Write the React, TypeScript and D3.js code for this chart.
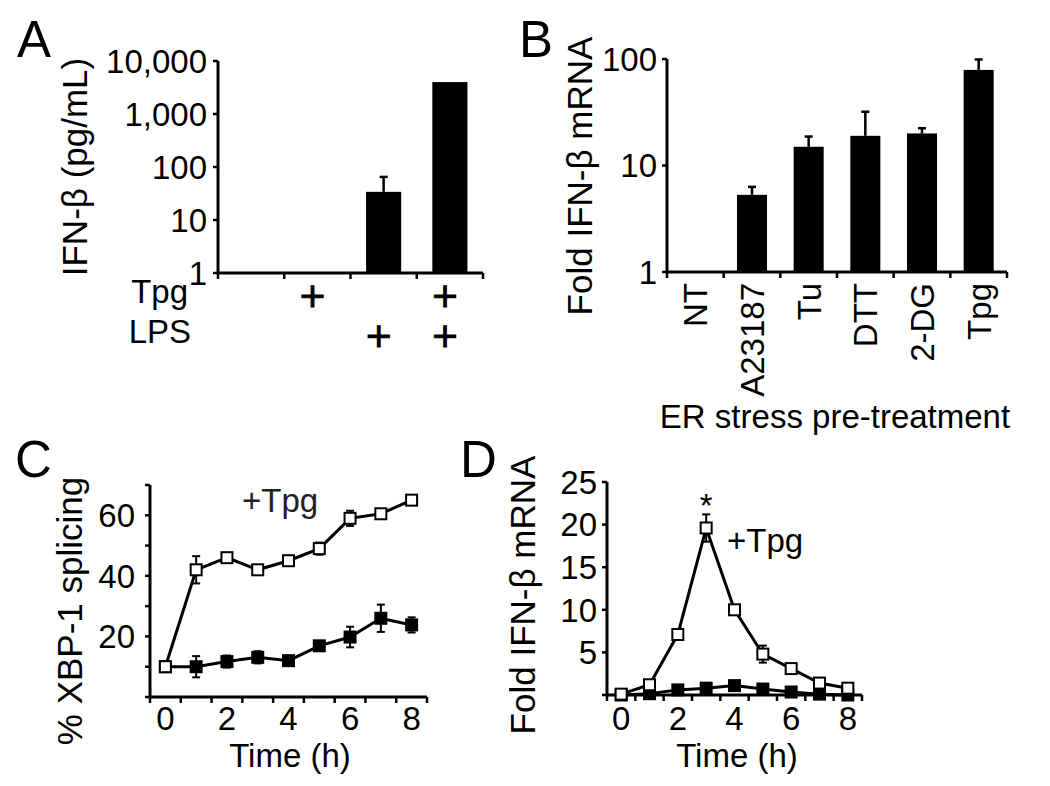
import React from "react";
import * as d3 from "d3";

// ---------- Panel A data ----------
const aGroups = ["ctrl", "tpg", "lps", "tpg+lps"];
const aTpg = [false, true, false, true];
const aLps = [false, false, true, true];
const aValues = [1, 1, 34, 4000];
const aErrTop = [1, 1, 65, 4000];
const aTicks = [1, 10, 100, 1000, 10000];
const aTickLabels = ["1", "10", "100", "1,000", "10,000"];

// ---------- Panel B data ----------
const bCategories = ["NT", "A23187", "Tu", "DTT", "2-DG", "Tpg"];
const bValues = [1, 5.3, 15, 19, 20, 79];
const bErrTop = [1, 6.3, 18.7, 32, 22.4, 99];
const bTicks = [1, 10, 100];

// ---------- Panel C data ----------
const times = [0, 1, 2, 3, 4, 5, 6, 7, 8];
const cTpg = [10, 42, 46, 42, 45, 49, 59, 60.5, 65];
const cTpgErr = [0, 4.5, 0.8, 0.8, 0.8, 2, 2.5, 1, 1];
const cCtrl = [10, 10, 11.7, 13.1, 12, 16.9, 19.8, 26, 23.8];
const cCtrlErr = [0, 3.5, 2, 2, 1.5, 1.5, 3.4, 4.5, 2.5];
const cYTicks = [0, 10, 20, 30, 40, 50, 60, 70];
const cYLabels = [20, 40, 60];
const xLabels = [0, 2, 4, 6, 8];
const xHalfTicks = [-0.5, 0.5, 1.5, 2.5, 3.5, 4.5, 5.5, 6.5, 7.5, 8.5];

// ---------- Panel D data ----------
const dTpg = [0.1, 1.2, 7.1, 19.6, 10, 4.8, 3.1, 1.4, 0.8];
const dTpgErr = [0, 0.3, 0.3, 1.6, 0.3, 1.0, 0.4, 0.3, 0.2];
const dCtrl = [0, 0.15, 0.6, 0.8, 1.1, 0.7, 0.35, 0.1, 0.0];
const dCtrlErr = [0, 0.1, 0.15, 0.2, 0.3, 0.2, 0.1, 0.05, 0.05];
const dYTicks = [0, 5, 10, 15, 20, 25];

const FONT = "'Liberation Sans', Arial, Helvetica, sans-serif";
const TICK_FS = 33;
const TITLE_FS = 35;
const LETTER_FS = 51;
const AXIS_W = 3;

function PanelA() {
  const x = d3.scaleBand<string>().domain(aGroups).range([218, 483]).paddingInner(0.47).paddingOuter(0.235);
  const y = d3.scaleLog().domain([1, 10000]).range([273, 61]);
  const step = x.step();
  const edges = d3.range(aGroups.length + 1).map((i) => 218 + i * step);
  return (
    <g>
      <text x={17} y={57} fontSize={LETTER_FS}>A</text>
      <text transform={`translate(75,167) rotate(-90)`} textAnchor="middle" dy="0.35em" fontSize={TITLE_FS}>
        IFN-β (pg/mL)
      </text>
      {aGroups.map((g, i) => {
        const cx = x(g)! + x.bandwidth() / 2;
        return aValues[i] > 1 ? (
          <g key={g}>
            {aErrTop[i] > aValues[i] ? (
              <g>
                <line x1={cx} x2={cx} y1={y(aValues[i])} y2={y(aErrTop[i])} stroke="#000" strokeWidth={2.5} />
                <line x1={cx - 4} x2={cx + 4} y1={y(aErrTop[i])} y2={y(aErrTop[i])} stroke="#000" strokeWidth={2.5} />
              </g>
            ) : null}
            <rect x={x(g)} y={y(aValues[i])} width={x.bandwidth()} height={y(1) - y(aValues[i])} fill="#000" />
          </g>
        ) : null;
      })}
      <line x1={218} x2={218} y1={y(10000)} y2={y(1) + 1.5} stroke="#000" strokeWidth={AXIS_W} />
      <line x1={218} x2={483} y1={y(1)} y2={y(1)} stroke="#000" strokeWidth={AXIS_W} />
      {aTicks.map((t, i) => (
        <g key={t}>
          <line x1={213} x2={218} y1={y(t)} y2={y(t)} stroke="#000" strokeWidth={2.5} />
          <text x={207} y={y(t)} dy="0.36em" textAnchor="end" fontSize={TICK_FS}>{aTickLabels[i]}</text>
        </g>
      ))}
      {edges.map((e, i) => (
        <line key={i} x1={e} x2={e} y1={y(1)} y2={y(1) + 6} stroke="#000" strokeWidth={2.5} />
      ))}
      <text x={188} y={303} textAnchor="end" fontSize={TICK_FS}>Tpg</text>
      <text x={191} y={343} textAnchor="end" fontSize={TICK_FS}>LPS</text>
      {aGroups.map((g, i) => (
        <g key={"p" + g} fontFamily="'DejaVu Sans', sans-serif">
          {aTpg[i] ? (
            <text x={x(g)! + x.bandwidth() / 2 - 5} y={307} textAnchor="middle" fontSize={34} stroke="#000" strokeWidth={1}>+</text>
          ) : null}
          {aLps[i] ? (
            <text x={x(g)! + x.bandwidth() / 2 - 5} y={347} textAnchor="middle" fontSize={34} stroke="#000" strokeWidth={1}>+</text>
          ) : null}
        </g>
      ))}
    </g>
  );
}

function PanelB() {
  const x = d3.scaleBand<string>().domain(bCategories).range([667, 1007]).paddingInner(0.47).paddingOuter(0.235);
  const y = d3.scaleLog().domain([1, 100]).range([272, 59]);
  const step = x.step();
  const edges = d3.range(bCategories.length + 1).map((i) => 667 + i * step);
  return (
    <g>
      <text x={519} y={57} fontSize={LETTER_FS}>B</text>
      <text transform={`translate(580,176) rotate(-90)`} textAnchor="middle" dy="0.35em" fontSize={TITLE_FS}>
        Fold IFN-β mRNA
      </text>
      {bCategories.map((c, i) => {
        const cx = x(c)! + x.bandwidth() / 2;
        return bValues[i] > 1 ? (
          <g key={c}>
            <line x1={cx} x2={cx} y1={y(bValues[i])} y2={y(bErrTop[i])} stroke="#000" strokeWidth={2.5} />
            <line x1={cx - 4} x2={cx + 4} y1={y(bErrTop[i])} y2={y(bErrTop[i])} stroke="#000" strokeWidth={2.5} />
            <rect x={x(c)} y={y(bValues[i])} width={x.bandwidth()} height={y(1) - y(bValues[i])} fill="#000" />
          </g>
        ) : null;
      })}
      <line x1={667} x2={667} y1={y(100)} y2={y(1) + 1.5} stroke="#000" strokeWidth={AXIS_W} />
      <line x1={667} x2={1007} y1={y(1)} y2={y(1)} stroke="#000" strokeWidth={AXIS_W} />
      {bTicks.map((t) => (
        <g key={t}>
          <line x1={662} x2={667} y1={y(t)} y2={y(t)} stroke="#000" strokeWidth={2.5} />
          <text x={657} y={y(t)} dy="0.36em" textAnchor="end" fontSize={TICK_FS}>{t}</text>
        </g>
      ))}
      {edges.map((e, i) => (
        <line key={i} x1={e} x2={e} y1={y(1)} y2={y(1) + 6} stroke="#000" strokeWidth={2.5} />
      ))}
      {bCategories.map((c) => (
        <text key={"l" + c} transform={`translate(${x(c)! + x.bandwidth() / 2},283) rotate(-90)`} textAnchor="end" dy="0.36em" fontSize={TICK_FS}>
          {c}
        </text>
      ))}
      <text x={835} y={428} textAnchor="middle" fontSize={TICK_FS}>ER stress pre-treatment</text>
    </g>
  );
}

type SeriesProps = {
  x: d3.ScaleLinear<number, number>;
  y: d3.ScaleLinear<number, number>;
  vals: number[];
  errs: number[];
  filled: boolean;
};

function Series({ x, y, vals, errs, filled }: SeriesProps) {
  const line = d3
    .line<number>()
    .x((_, i) => x(times[i]))
    .y((v) => y(v));
  const s = 11;
  return (
    <g>
      <path d={line(vals) || ""} fill="none" stroke="#000" strokeWidth={3} />
      {vals.map((v, i) =>
        errs[i] > 0 ? (
          <g key={"e" + i}>
            <line x1={x(times[i])} x2={x(times[i])} y1={y(v - errs[i])} y2={y(v + errs[i])} stroke="#000" strokeWidth={2} />
            <line x1={x(times[i]) - 4} x2={x(times[i]) + 4} y1={y(v + errs[i])} y2={y(v + errs[i])} stroke="#000" strokeWidth={2} />
            <line x1={x(times[i]) - 4} x2={x(times[i]) + 4} y1={y(v - errs[i])} y2={y(v - errs[i])} stroke="#000" strokeWidth={2} />
          </g>
        ) : null
      )}
      {vals.map((v, i) => (
        <rect key={"m" + i} x={x(times[i]) - s / 2} y={y(v) - s / 2} width={s} height={s} fill={filled ? "#000" : "#fff"} stroke="#000" strokeWidth={2} />
      ))}
    </g>
  );
}

function PanelC() {
  const x = d3.scaleLinear().domain([-0.5, 8.5]).range([150, 427]);
  const y = d3.scaleLinear().domain([0, 70]).range([697, 485]);
  return (
    <g>
      <text x={15} y={477} fontSize={LETTER_FS}>C</text>
      <text transform={`translate(70,611) rotate(-90)`} textAnchor="middle" dy="0.35em" fontSize={TITLE_FS}>
        % XBP-1 splicing
      </text>
      <line x1={150} x2={150} y1={485} y2={698.5} stroke="#000" strokeWidth={AXIS_W} />
      <line x1={150} x2={427} y1={697} y2={697} stroke="#000" strokeWidth={AXIS_W} />
      {cYTicks.map((t) => (
        <line key={t} x1={145} x2={150} y1={y(t)} y2={y(t)} stroke="#000" strokeWidth={2.5} />
      ))}
      {cYLabels.map((t) => (
        <text key={"l" + t} x={135} y={y(t)} dy="0.36em" textAnchor="end" fontSize={TICK_FS}>{t}</text>
      ))}
      {xHalfTicks.map((t) => (
        <line key={t} x1={x(t)} x2={x(t)} y1={697} y2={703} stroke="#000" strokeWidth={2.5} />
      ))}
      {xLabels.map((t) => (
        <text key={"x" + t} x={x(t)} y={730} textAnchor="middle" fontSize={TICK_FS}>{t}</text>
      ))}
      <text x={290} y={767} textAnchor="middle" fontSize={TICK_FS}>Time (h)</text>
      <Series x={x} y={y} vals={cCtrl} errs={cCtrlErr} filled={true} />
      <Series x={x} y={y} vals={cTpg} errs={cTpgErr} filled={false} />
      <text x={242} y={512} fontSize={TICK_FS} fill="#222">+Tpg</text>
    </g>
  );
}

function PanelD() {
  const x = d3.scaleLinear().domain([-0.5, 8.5]).range([607, 862]);
  const y = d3.scaleLinear().domain([0, 25]).range([695, 482]);
  return (
    <g>
      <text x={460} y={477} fontSize={LETTER_FS}>D</text>
      <text transform={`translate(523,595) rotate(-90)`} textAnchor="middle" dy="0.35em" fontSize={TITLE_FS}>
        Fold IFN-β mRNA
      </text>
      <line x1={607} x2={607} y1={482} y2={696.5} stroke="#000" strokeWidth={AXIS_W} />
      <line x1={607} x2={862} y1={695} y2={695} stroke="#000" strokeWidth={AXIS_W} />
      {dYTicks.map((t) => (
        <g key={t}>
          <line x1={602} x2={607} y1={y(t)} y2={y(t)} stroke="#000" strokeWidth={2.5} />
          {t > 0 ? (
            <text x={597} y={y(t)} dy="0.36em" textAnchor="end" fontSize={TICK_FS}>{t}</text>
          ) : null}
        </g>
      ))}
      {xHalfTicks.map((t) => (
        <line key={t} x1={x(t)} x2={x(t)} y1={695} y2={701} stroke="#000" strokeWidth={2.5} />
      ))}
      {xLabels.map((t) => (
        <text key={"x" + t} x={x(t)} y={730} textAnchor="middle" fontSize={TICK_FS}>{t}</text>
      ))}
      <text x={737} y={767} textAnchor="middle" fontSize={TICK_FS}>Time (h)</text>
      <Series x={x} y={y} vals={dCtrl} errs={dCtrlErr} filled={true} />
      <Series x={x} y={y} vals={dTpg} errs={dTpgErr} filled={false} />
      <text x={x(3)} y={517} textAnchor="middle" fontSize={TICK_FS}>*</text>
      <text x={727} y={552} fontSize={TICK_FS}>+Tpg</text>
    </g>
  );
}

export default function App() {
  return (
    <svg
      width={1050}
      height={786}
      style={{ position: "absolute", left: 0, top: 0, background: "#fff" }}
      fontFamily={FONT}
    >
      <rect width={1050} height={786} fill="#fff" />
      <PanelA />
      <PanelB />
      <PanelC />
      <PanelD />
    </svg>
  );
}
